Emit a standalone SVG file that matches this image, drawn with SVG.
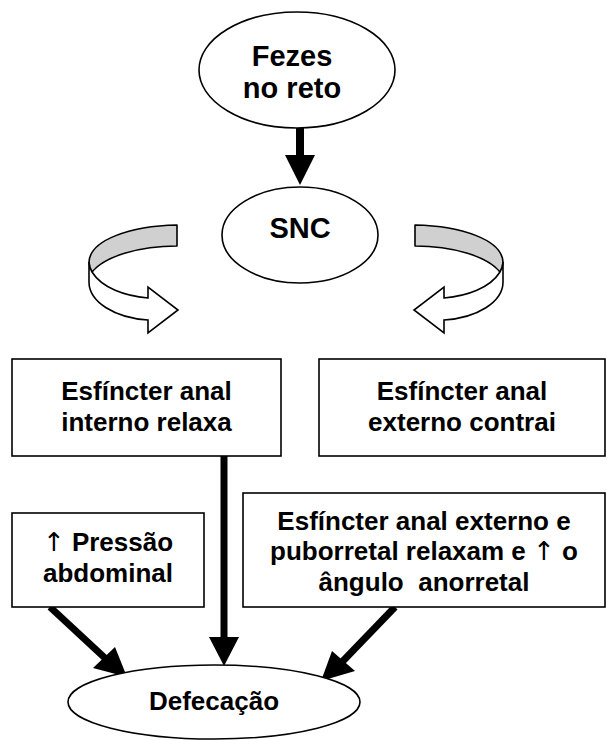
<svg xmlns="http://www.w3.org/2000/svg" width="607" height="740" viewBox="0 0 607 740">
<style>
  .shape { fill: #ffffff; stroke: #000000; stroke-width: 1.6; }
  .t { font-family: "Liberation Sans", Arial, sans-serif; font-weight: bold; font-size: 26px; fill: #000000; text-anchor: middle; }
  .big { font-size: 29px; }
  .thin { font-family: "DejaVu Sans", "Liberation Sans", sans-serif; font-weight: normal; fill: #000000; }
  .shaft { stroke: #000000; stroke-width: 7; fill: none; }
  .head { fill: #000000; stroke: none; }
  .band { fill: #d0d0d0; stroke: #000000; stroke-width: 1.6; stroke-linejoin: round; }
  .ribbon { fill: #ffffff; stroke: #000000; stroke-width: 1.6; stroke-linejoin: miter; }
</style>
<defs>
  <g id="curved">
    <path class="band" d="M177,225 C130,226 90,240 89,262 C89,266 90,269 92,272 C105,256 140,246 177,246 Z"/>
    <path class="ribbon" d="M92,272 C102,288 125,296 148,298 L148,287 L178,310 L148,333 L148,320 C115,318 89,302 89,282 L89,262 C89,266 90,269 92,272 Z"/>
  </g>
</defs>

<rect width="607" height="740" fill="#ffffff"/>

<g id="connectors">
  <line class="shaft" x1="300" y1="128" x2="300" y2="157" style="stroke-width:8"/>
  <polygon class="head" points="285,155 315,155 300,185"/>
  <line class="shaft" x1="224" y1="456" x2="224" y2="639"/>
  <polygon class="head" points="209,637 239,637 224,666"/>
  <line class="shaft" x1="50" y1="607" x2="106" y2="659"/>
  <polygon class="head" points="93,668 115,647 127,677"/>
  <line class="shaft" x1="395" y1="607" x2="342" y2="662"/>
  <polygon class="head" points="355,671 332,651 321,681"/>
  <use id="curved-left" href="#curved"/>
  <use id="curved-right" href="#curved" transform="translate(592,0) scale(-1,1)"/>
</g>

<g id="fezes">
  <ellipse class="shape" cx="297" cy="70" rx="98" ry="58"/>
  <text class="t big" x="292" y="66">Fezes</text>
  <text class="t big" x="292" y="98">no reto</text>
</g>

<g id="snc">
  <ellipse class="shape" cx="300" cy="235" rx="78" ry="48"/>
  <text class="t big" x="300" y="238">SNC</text>
</g>

<g id="interno">
  <rect class="shape" x="12" y="359" width="269" height="97"/>
  <text class="t" x="146.5" y="400">Esfíncter anal</text>
  <text class="t" x="146.5" y="431">interno relaxa</text>
</g>

<g id="externo">
  <rect class="shape" x="319" y="359" width="286" height="97"/>
  <text class="t" x="462" y="400">Esfíncter anal</text>
  <text class="t" x="462" y="431">externo contrai</text>
</g>

<g id="pressao">
  <rect class="shape" x="12" y="513" width="192" height="94"/>
  <text class="t" x="108" y="551"><tspan class="thin">↑</tspan> Pressão</text>
  <text class="t" x="108" y="582">abdominal</text>
</g>

<g id="puborretal">
  <rect class="shape" x="243" y="493" width="362" height="114"/>
  <text class="t" x="424" y="530">Esfíncter anal externo e</text>
  <text class="t" x="424" y="560">puborretal relaxam e <tspan class="thin">↑</tspan> o</text>
  <text class="t" x="424" y="591">ângulo&#160; anorretal</text>
</g>

<g id="defecacao">
  <ellipse class="shape" cx="214" cy="702" rx="146" ry="37"/>
  <text class="t" x="214" y="710">Defecação</text>
</g>
</svg>
